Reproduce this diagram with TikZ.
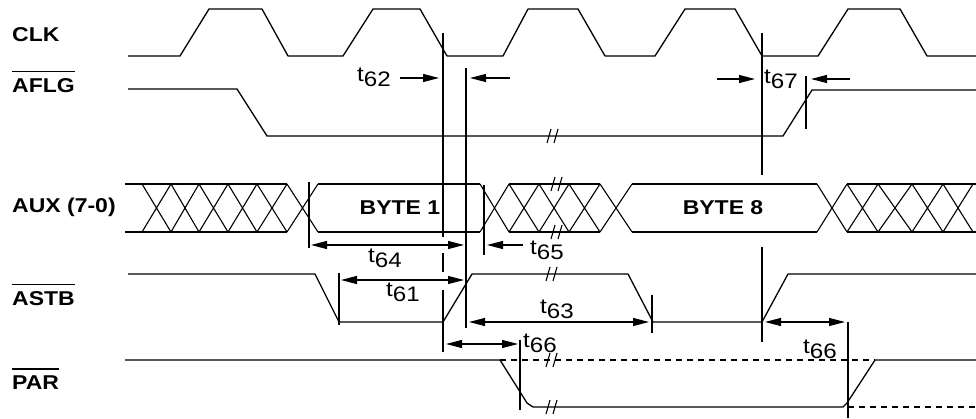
\documentclass[tikz,border=0pt]{standalone}
\usepackage{fontspec}
\setmainfont{Liberation Sans}
\newfontfamily\labfont[FakeStretch=1.15]{Liberation Sans}
\usetikzlibrary{arrows.meta}
\newcommand\brkmark[2]{\draw[thinl] (#1-6,#2+7) -- (#1-2,#2-7) (#1+1,#2+7) -- (#1+5,#2-7);}
\begin{document}
\begin{tikzpicture}[x=1pt,y=-1pt,
  sig/.style={line width=1.3pt,line join=round},
  thinl/.style={line width=1.1pt},
  dsig/.style={line width=1.1pt,dash pattern=on 6pt off 5pt},
  arr/.style={line width=1.1pt,-{Triangle[length=16pt,width=8pt]}},
  darr/.style={line width=1.1pt,{Triangle[length=16pt,width=8pt]}-{Triangle[length=16pt,width=8pt]}},
  sname/.style={font=\labfont\fontsize{20}{24}\selectfont\bfseries, anchor=west, inner sep=0pt},
  tlab/.style={font=\labfont\fontsize{21}{24}\selectfont, anchor=base west, inner sep=0pt},
  byte/.style={font=\labfont\fontsize{20}{24}\selectfont\bfseries, inner sep=0pt}]
\fill[white] (0,0) rectangle (976,419);
\useasboundingbox (0,0) rectangle (976,419);

% signal names
\node[sname] (clk) at (12,35) {CLK};
\node[sname] (aflg) at (12,86) {AFLG};
\node[sname] (aux) at (12,207) {AUX (7-0)};
\node[sname] (astb) at (12,299) {ASTB};
\node[sname] (par) at (12,383) {PAR};
\foreach \n in {aflg,astb,par}
  \draw[line width=1.3pt] ([yshift=7pt]\n.north west) -- ([yshift=7pt]\n.north east);

% CLK
\draw[sig] (128,56) -- (180,56) -- (209,9) -- (262,9) -- (288,56) -- (343,56) -- (373,9) -- (420,9) -- (447,56)
  -- (503,56) -- (528,9) -- (578,9) -- (605,56) -- (655,56) -- (685,9) -- (735,9) -- (762,56)
  -- (818,56) -- (848,9) -- (900,9) -- (927,56) -- (976,56);

% AFLG
\draw[sig] (128,89) -- (237,89) -- (267,136) -- (783,136) -- (812,90) -- (976,90);
\brkmark{553}{136}

% AUX bus
\draw[sig] (125,184) -- (287,184) (125,232) -- (287,232);
\foreach \a/\b in {142/171,171/199,199/228,228/257,257/287}
  \draw[thinl] (\a,184) -- (\b,232) (\a,232) -- (\b,184);
\draw[thinl] (287,184) -- (318,232) (287,232) -- (318,184);
\draw[sig] (318,184) -- (480,184) (318,232) -- (480,232);
\draw[thinl] (480,184) -- (509,232) (480,232) -- (509,184);
\draw[sig] (509,184) -- (600,184) (509,232) -- (600,232);
\foreach \a/\b in {509/539,539/569,569/600}
  \draw[thinl] (\a,184) -- (\b,232) (\a,232) -- (\b,184);
\draw[thinl] (600,184) -- (632,232) (600,232) -- (632,184);
\draw[sig] (632,184) -- (817,184) (632,232) -- (817,232);
\draw[thinl] (817,184) -- (847,232) (817,232) -- (847,184);
\draw[sig] (847,184) -- (976,184) (847,232) -- (976,232);
\foreach \a/\b in {847/878,878/912,912/943,943/973}
  \draw[thinl] (\a,184) -- (\b,232) (\a,232) -- (\b,184);
\brkmark{557}{184}
\brkmark{557}{232}
\node[byte] (b1) at (400,208) {BYTE 1};
\node[byte] (b8) at (723,208) {BYTE 8};

% ASTB
\draw[sig] (128,274) -- (315,274) -- (339,322) -- (443,322) -- (472,274) -- (628,274) -- (653,322)
  -- (762,322) -- (788,274) -- (976,274);
\brkmark{552}{274}

% PAR
\draw[sig] (125,360) -- (500,360) -- (527,403) -- (533,407) -- (843,407) -- (847,403) -- (875,360) -- (976,360);
\draw[dsig] (500,360) -- (875,360);
\draw[dsig] (848,407) -- (976,407);
\brkmark{552}{360}
\brkmark{552}{407}

% reference lines
\draw[thinl] (443,33) -- (443,237) (443,253) -- (443,272) (443,290) -- (443,352);
\draw[thinl] (466,68) -- (466,328);
\draw[thinl] (762,33) -- (762,175) (762,247) -- (762,342);
\draw[thinl] (806,76) -- (806,129);
\draw[thinl] (309,182) -- (309,248);
\draw[thinl] (484,185) -- (484,255);
\draw[thinl] (339,273) -- (339,325);
\draw[thinl] (652,295) -- (652,333);
\draw[thinl] (520,340) -- (520,410);
\draw[thinl] (848,322) -- (848,418);

% timing arrows
\draw[arr] (400,78) -- (439,78);
\draw[arr] (510,78) -- (470,78);
\draw[arr] (717,79) -- (755,79);
\draw[arr] (850,79) -- (811,79);
\draw[darr] (311,245) -- (464,245);
\draw[arr] (523,245) -- (487,245);
\draw[darr] (341,280) -- (464,280);
\draw[darr] (469,322) -- (649,322);
\draw[darr] (446,344) -- (518,344);
\draw[darr] (765,322) -- (845,322);

% timing labels
\node[tlab] (t62) at (357,82) {t\raisebox{-5pt}{62}};
\node[tlab] (t67) at (764,84) {t\raisebox{-5pt}{67}};
\node[tlab] (t64) at (368,263) {t\raisebox{-5pt}{64}};
\node[tlab] (t65) at (530,255) {t\raisebox{-5pt}{65}};
\node[tlab] (t61) at (386,297) {t\raisebox{-5pt}{61}};
\node[tlab] (t63) at (540,313) {t\raisebox{-5pt}{63}};
\node[tlab] (t66a) at (523,347) {t\raisebox{-5pt}{66}};
\node[tlab] (t66b) at (803,353) {t\raisebox{-5pt}{66}};
\end{tikzpicture}
\end{document}
